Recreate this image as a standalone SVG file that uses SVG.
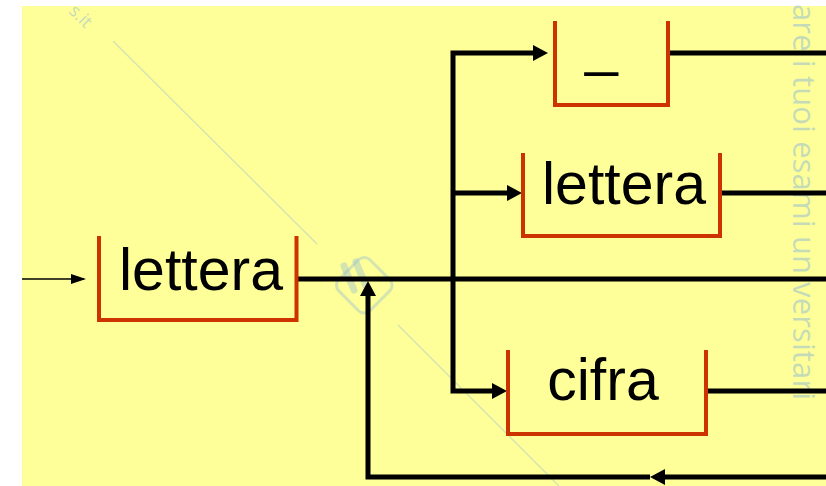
<svg xmlns="http://www.w3.org/2000/svg" width="826" height="486" viewBox="0 0 826 486">
  <defs>
    <marker id="ah" markerUnits="userSpaceOnUse" markerWidth="16" markerHeight="16" refX="9" refY="8" orient="auto-start-reverse">
      <path d="M0,0 L15,8 L0,16 z" fill="#000"/>
    </marker>
    <marker id="ahThin" markerUnits="userSpaceOnUse" markerWidth="16" markerHeight="10" refX="13" refY="5" orient="auto">
      <path d="M0,0 L15,5 L0,10 z" fill="#000"/>
    </marker>
  </defs>
  <style>
    .bg { fill: #FFFF99; }
    .box { fill: none; stroke: #CC3300; stroke-width: 4; stroke-linejoin: miter; }
    .lbl { font-family: "Liberation Sans", Arial, sans-serif; font-size: 59px; fill: #000; text-anchor: middle; }
    .wire { fill: none; stroke: #000; stroke-width: 5; }
    .thin { fill: none; stroke: #000; stroke-width: 1.5; }
    .wm { fill: none; stroke: #9ec4cc; stroke-opacity: 0.45; stroke-width: 1.5; }
    .wmtext { font-family: "Open Sans", "Liberation Sans", sans-serif; fill: #9ec4cc; fill-opacity: 0.6; }
  </style>
  <rect x="0" y="0" width="826" height="486" fill="#ffffff"/>
  <rect class="bg" x="22" y="6" width="804" height="480"/>

  <g id="watermark">
    <line class="wm" x1="113" y1="41" x2="317" y2="244"/>
    <line class="wm" x1="398" y1="325" x2="559" y2="486"/>
    <rect x="344" y="259" width="44" height="44" rx="8" ry="8" transform="rotate(45 360 281)" fill="none" stroke="#9ec4cc" stroke-opacity="0.45" stroke-width="3"/>
    <line x1="344" y1="266" x2="354" y2="290" stroke="#9ec4cc" stroke-opacity="0.45" stroke-width="7" stroke-linecap="round"/>
    <line x1="356" y1="262" x2="366" y2="286" stroke="#9ec4cc" stroke-opacity="0.45" stroke-width="7" stroke-linecap="round"/>
    <text class="wmtext" font-size="31" textLength="396" lengthAdjust="spacing" transform="translate(793 4) rotate(90)">are i tuoi esami universitari</text>
    <text class="wmtext" font-size="18" transform="translate(68 12) rotate(45)">s.it</text>
  </g>

  <g id="connectors">
    <path class="thin" d="M22,279 H84" marker-end="url(#ahThin)"/>
    <path class="wire" d="M296,279 H826"/>
    <path class="wire" d="M542,53 H453 V391 H501" marker-start="url(#ah)" marker-end="url(#ah)"/>
    <path class="wire" d="M453,193 H516" marker-end="url(#ah)"/>
    <path class="wire" d="M668,53 H826"/>
    <path class="wire" d="M720,193 H826"/>
    <path class="wire" d="M706,391 H826"/>
    <path class="wire" d="M826,477 H656" marker-end="url(#ah)"/>
    <path class="wire" d="M650,477 H368 V287" marker-end="url(#ah)"/>
  </g>

  <g id="node-lettera-main">
    <path class="box" d="M99,236 V320 H296.5 V236"/>
    <text class="lbl" x="201" y="290">lettera</text>
  </g>
  <g id="node-underscore">
    <path class="box" d="M555,21 V105 H668 V21"/>
    <text class="lbl" x="601.5" y="64">_</text>
  </g>
  <g id="node-lettera-branch">
    <path class="box" d="M523,153 V236 H720 V153"/>
    <text class="lbl" x="624" y="204">lettera</text>
  </g>
  <g id="node-cifra">
    <path class="box" d="M508,350 V434 H706 V350"/>
    <text class="lbl" x="603" y="400">cifra</text>
  </g>
</svg>
